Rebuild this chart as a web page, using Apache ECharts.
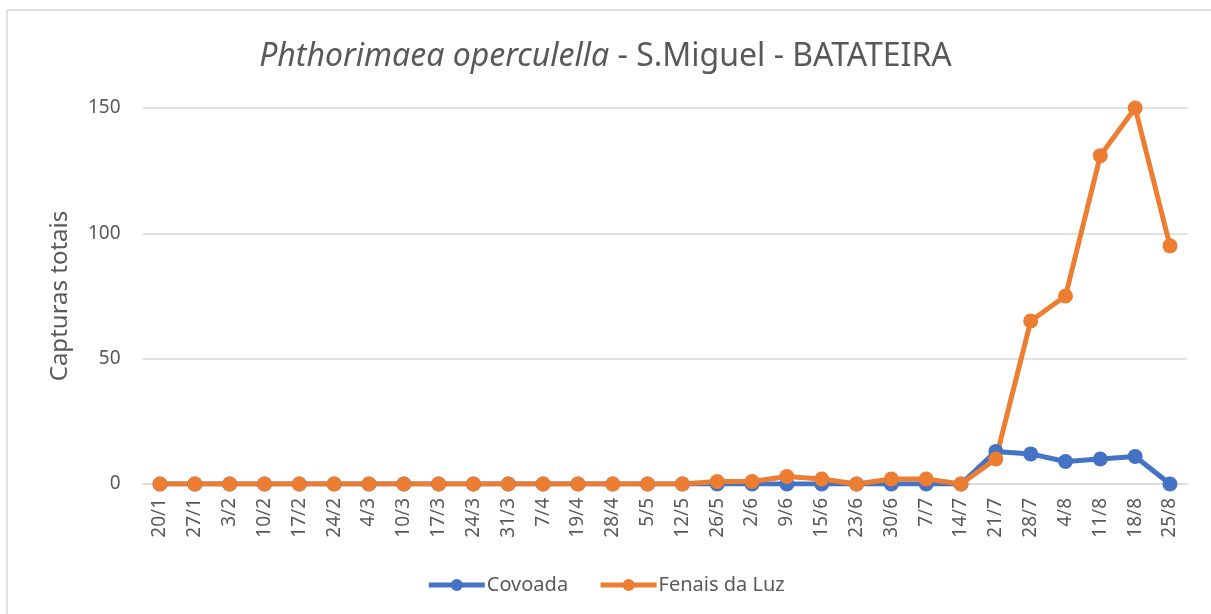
<!DOCTYPE html>
<html style="height: 100%;">
<head>
<meta charset="utf-8">
<title>Phthorimaea operculella - S.Miguel - BATATEIRA</title>
<script src="https://cdn.jsdelivr.net/npm/echarts@6/dist/echarts.min.js"></script>
</head>
<body style="height: 100%; margin: 0; background: #fff;">
<div id="container" style="width: 1211px; height: 614px;"></div>
<script type="text/javascript">
var datas = ['20/1','27/1','3/2','10/2','17/2','24/2','4/3','10/3','17/3','24/3','31/3','7/4','19/4','28/4','5/5','12/5',
             '26/5','2/6','9/6','15/6','23/6','30/6','7/7','14/7','21/7','28/7','4/8','11/8','18/8','25/8'];
var covoada = [0,0,0,0,0,0,0,0,0,0,0,0,0,0,0,0,
               0,0,0,0,0,0,0,0,13,12,9,10,11,0];
var fenais = [0,0,0,0,0,0,0,0,0,0,0,0,0,0,0,0,
              1,1,3,2,0,2,2,0,10,65,75,131,150,95];
var yTicks = [0, 50, 100, 150];

var fonte = '"Noto Sans", "Open Sans", sans-serif';
var cinza = '#595959';

var dom = document.getElementById('container');
var myChart = echarts.init(dom);
var option = {
    backgroundColor: '#fff',
    animation: false,
    textStyle: { fontFamily: fonte },
    title: {
        text: '{i|Phthorimaea operculella}{n| - S.Miguel - BATATEIRA}',
        left: 'center',
        top: 36,
        textStyle: {
            fontWeight: 'normal',
            rich: {
                i: { fontFamily: fonte, fontSize: 32, fontStyle: 'italic', fontWeight: 'normal', color: cinza },
                n: { fontFamily: fonte, fontSize: 32, fontWeight: 'normal', color: cinza }
            }
        }
    },
    graphic: [{
        type: 'rect',
        shape: { x: 7, y: 10, width: 1240, height: 640 },
        style: { fill: null, stroke: '#d9d9d9', lineWidth: 1.5 },
        silent: true
    }],
    legend: {
        bottom: 14,
        left: 'center',
        itemWidth: 56,
        itemHeight: 15,
        itemGap: 30,
        lineStyle: { width: 5 },
        textStyle: { fontFamily: fonte, fontSize: 20, color: cinza, padding: [0, 0, 0, -3] },
        data: ['Covoada', 'Fenais da Luz']
    },
    grid: { left: 142.6, right: 23.6, top: 108, bottom: 130 },
    xAxis: {
        type: 'category',
        data: datas,
        boundaryGap: true,
        axisLine: { lineStyle: { color: '#d9d9d9', width: 1.5 } },
        axisTick: { show: false },
        axisLabel: { rotate: 90, fontSize: 19, color: cinza, margin: 14, interval: 0, fontFamily: fonte }
    },
    yAxis: {
        type: 'value',
        min: yTicks[0],
        max: yTicks[yTicks.length - 1],
        interval: 50,
        name: 'Capturas totais',
        nameLocation: 'middle',
        nameRotate: 90,
        nameGap: 70,
        nameTextStyle: { fontSize: 24, color: cinza, fontFamily: fonte },
        axisLine: { show: false },
        axisTick: { show: false },
        axisLabel: { fontSize: 19, color: cinza, margin: 22, fontFamily: fonte },
        splitLine: { lineStyle: { color: '#d9d9d9', width: 1.5 } }
    },
    series: [
        {
            name: 'Covoada',
            type: 'line',
            data: covoada,
            symbol: 'circle',
            symbolSize: 15,
            color: '#4472C4',
            lineStyle: { width: 5, color: '#4472C4' },
            itemStyle: { color: '#4472C4' }
        },
        {
            name: 'Fenais da Luz',
            type: 'line',
            data: fenais,
            symbol: 'circle',
            symbolSize: 15,
            color: '#ED7D31',
            lineStyle: { width: 5, color: '#ED7D31' },
            itemStyle: { color: '#ED7D31' }
        }
    ]
};
myChart.setOption(option);
</script>
</body>
</html>
